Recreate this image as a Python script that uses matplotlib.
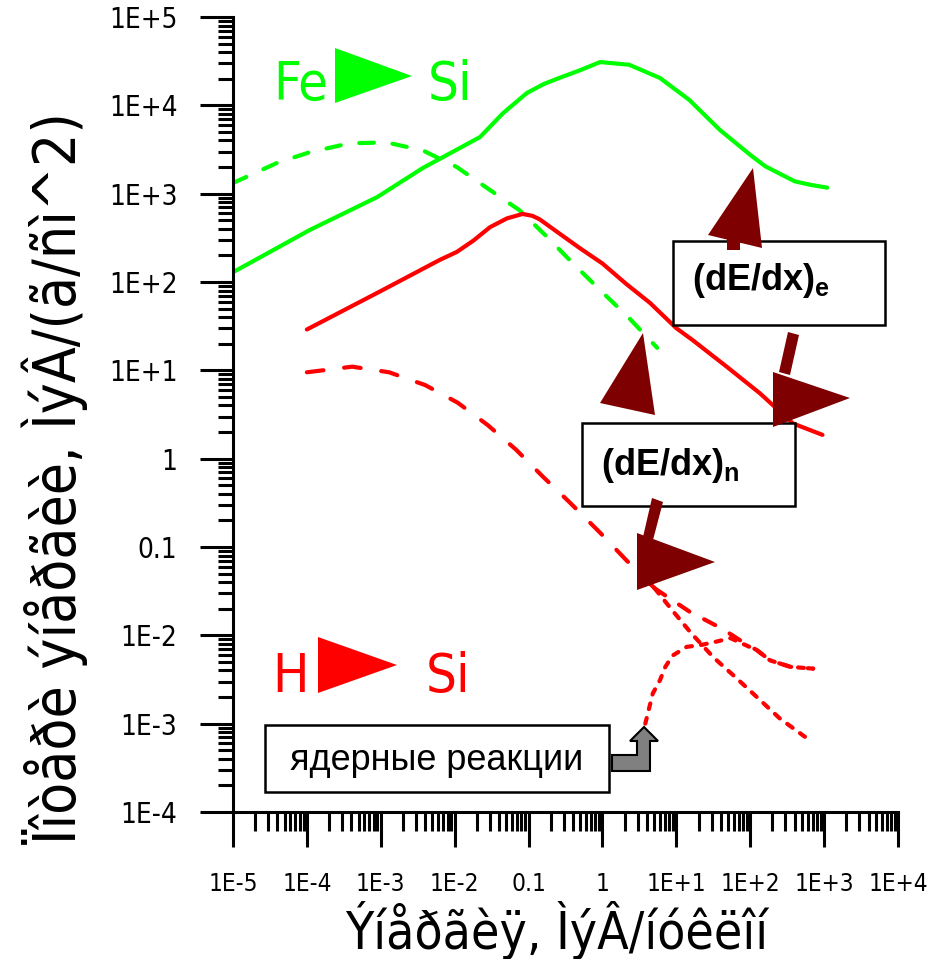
import matplotlib
matplotlib.use("Agg")
import matplotlib.pyplot as plt
from matplotlib.patches import Polygon, Rectangle
from matplotlib.ticker import LogLocator, NullFormatter, FixedLocator, FixedFormatter

# узкий шрифт (DejaVu Sans Condensed)
plt.rcParams['font.family'] = ['DejaVu Sans']
plt.rcParams['font.stretch'] = 'condensed'
plt.rcParams['mathtext.fontset'] = 'custom'
plt.rcParams['mathtext.bf'] = 'Liberation Sans:bold'
plt.rcParams['mathtext.rm'] = 'Liberation Sans'

# Fe -> Si, electronic losses (solid green)
fe_el_E = [1e-5, 1.1e-4, 8.9e-4, 3.7e-3, 2.2e-2, 4.5e-2, 9.5e-2, 0.16, 0.26, 0.5, 0.93, 2.3, 6.0, 15, 39, 100, 160, 400, 650, 1100]
fe_el_S = [129, 389, 912, 1950, 4370, 8130, 13800, 17400, 20400, 25000, 30900, 28800, 20400, 11500, 5250, 2750, 2040, 1380, 1260, 1170]

# Fe -> Si, nuclear losses (dashed green)
fe_nu_E = [1e-5, 4.0e-5, 1.1e-4, 3.8e-4, 1.2e-3, 3.7e-3, 1.07e-2, 3.0e-2, 7.6e-2, 0.178, 0.40, 0.93, 2.3, 5.5]
fe_nu_S = [1320, 2240, 2950, 3720, 3800, 3090, 2000, 1100, 646, 324, 162, 81, 39, 18]

# H -> Si, electronic losses (solid red)
h_el_E = [1.0e-4, 1.0e-3, 6.3e-3, 1.07e-2, 1.8e-2, 3.0e-2, 5.1e-2, 8.3e-2, 0.112, 0.141, 0.26, 0.50, 1.0, 2.1, 4.4, 10, 16.6, 48, 135, 380, 950]
h_el_S = [29, 79, 178, 219, 295, 417, 525, 589, 562, 513, 355, 240, 162, 95, 58, 30, 22, 11, 5.5, 2.5, 1.86]

# H -> Si, nuclear (elastic) losses (dashed red, then dotted)
h_nu_E = [1.0e-4, 4.1e-4, 1.3e-3, 4.0e-3, 1.1e-2, 2.8e-2, 6.8e-2, 0.155, 0.36, 0.93, 2.1, 5.1]
h_nu_S = [9.5, 11.0, 9.5, 6.8, 4.3, 2.4, 1.26, 0.63, 0.32, 0.145, 0.071, 0.034]
h_nu2_E = [5.1, 8.9, 16, 32, 62, 123, 250, 550]
h_nu2_S = [0.034, 0.019, 0.0105, 0.0056, 0.0034, 0.0020, 0.00115, 0.00071]

# H -> Si, total nuclear (dashed red)
h_tot_E = [5.1, 15, 43, 91, 123, 186, 350, 710]
h_tot_S = [0.034, 0.0186, 0.0117, 0.0078, 0.0068, 0.0052, 0.0044, 0.0042]

# H -> Si, nuclear reactions (dotted red)
h_re_E = [3.8, 4.8, 6.0, 7.1, 8.9, 13.8, 22, 35, 54, 85, 123, 186, 350, 710]
h_re_S = [0.0010, 0.0022, 0.0031, 0.0044, 0.0059, 0.0074, 0.0078, 0.0085, 0.0093, 0.0078, 0.0068, 0.0052, 0.0044, 0.0042]

x_ticks = [1e-5, 1e-4, 1e-3, 1e-2, 0.1, 1, 10, 100, 1e3, 1e4]
x_labels = ['1E-5', '1E-4', '1E-3', '1E-2', '0.1', '1', '1E+1', '1E+2', '1E+3', '1E+4']
y_ticks = [1e-4, 1e-3, 1e-2, 0.1, 1, 10, 100, 1e3, 1e4, 1e5]
y_labels = ['1E-4', '1E-3', '1E-2', '0.1', '1', '1E+1', '1E+2', '1E+3', '1E+4', '1E+5']

green = '#00ff00'
red = '#ff0000'
dark = '#7f0000'

fig = plt.figure(figsize=(9.28, 9.59), dpi=100)
ax = fig.add_axes([233/928, (959-812)/959, 665/928, 795/959])
ax.set_xscale('log')
ax.set_yscale('log')
ax.set_xlim(1e-5, 1e4)
ax.set_ylim(1e-4, 1e5)

lw = 3
ax.plot(fe_el_E, fe_el_S, color=green, lw=lw, solid_capstyle='round')
ax.plot(fe_nu_E, fe_nu_S, color=green, lw=lw, dashes=(3.5, 4.5), dash_capstyle='round')
ax.plot(h_el_E, h_el_S, color=red, lw=lw, solid_capstyle='round')
ax.plot(h_nu_E, h_nu_S, color=red, lw=lw, dashes=(4, 5), dash_capstyle='round')
ax.plot(h_nu2_E, h_nu2_S, color=red, lw=lw, dashes=(1.6, 2.2), dash_capstyle='round')
ax.plot(h_tot_E, h_tot_S, color=red, lw=lw, dashes=(3, 4), dash_capstyle='round')
ax.plot(h_re_E, h_re_S, color=red, lw=lw, dashes=(1.4, 2.2), dash_capstyle='round')

# оси
for s in ['top', 'right']:
    ax.spines[s].set_visible(False)
for s in ['left', 'bottom']:
    ax.spines[s].set_linewidth(2.2)

ax.xaxis.set_major_locator(FixedLocator(x_ticks))
ax.xaxis.set_major_formatter(FixedFormatter(x_labels))
ax.yaxis.set_major_locator(FixedLocator(y_ticks))
ax.yaxis.set_major_formatter(FixedFormatter(y_labels))
ax.xaxis.set_minor_locator(LogLocator(base=10, subs=range(2, 10), numticks=20))
ax.yaxis.set_minor_locator(LogLocator(base=10, subs=range(2, 10), numticks=20))
ax.xaxis.set_minor_formatter(NullFormatter())
ax.yaxis.set_minor_formatter(NullFormatter())
ax.tick_params(axis='x', which='major', direction='out', length=25, width=2.2, pad=18, labelsize=17.5)
ax.tick_params(axis='x', which='minor', direction='out', length=14, width=2.2)
ax.tick_params(axis='y', which='major', direction='out', length=24, width=2.2, pad=16, labelsize=20)
ax.tick_params(axis='y', which='minor', direction='out', length=11, width=2.2)

fig.text(557/928, 1-930/959, 'Ýíåðãèÿ, ÌýÂ/íóêëîí', fontsize=37, ha='center', va='center')
fig.text(55/928, 1-478/959, 'Ïîòåðè ýíåðãèè, ÌýÂ/(ã/ñì^2)', fontsize=42, ha='center', va='center', rotation=90)


def fr(px, py):
    # пиксели картинки -> доли осей
    return ((px - 233) / 665, (812 - py) / 795)


def poly(pts, fc, ec='none', lw=0, z=5):
    p = Polygon([fr(*q) for q in pts], closed=True, transform=ax.transAxes, facecolor=fc,
                edgecolor=ec, linewidth=lw, clip_on=False, zorder=z)
    ax.add_patch(p)


def box(x0, y0, x1, y1):
    a = fr(x0, y1)
    b = fr(x1, y0)
    r = Rectangle(a, b[0]-a[0], b[1]-a[1], transform=ax.transAxes, facecolor='white',
                  edgecolor='black', linewidth=1.8, clip_on=False, zorder=4)
    ax.add_patch(r)


# подписи Fe -> Si и H -> Si
big_fs = 39
ax.text(*fr(273, 100), 'Fe', color=green, fontsize=big_fs, transform=ax.transAxes, va='baseline')
poly([(335, 48), (335, 103), (412, 76)], green)
ax.text(*fr(428, 100), 'Si', color=green, fontsize=big_fs, transform=ax.transAxes, va='baseline')
ax.text(*fr(272, 692), 'H', color=red, fontsize=big_fs, transform=ax.transAxes, va='baseline')
poly([(318, 637), (318, 693), (397, 665)], red)
ax.text(*fr(426, 692), 'Si', color=red, fontsize=big_fs, transform=ax.transAxes, va='baseline')

# рамки
box(673, 241, 885, 325)
ax.text(*fr(692, 290), r'$\mathbf{(dE/dx)}_{\mathbf{e}}$', fontsize=26, transform=ax.transAxes,
        va='baseline', zorder=6)
box(582, 423, 795, 506)
ax.text(*fr(601, 475), r'$\mathbf{(dE/dx)}_{\mathbf{n}}$', fontsize=26, transform=ax.transAxes,
        va='baseline', zorder=6)
box(265, 725, 609, 792)
ax.text(*fr(437, 760), 'ядерные реакции', fontsize=26, family='Liberation Sans', stretch='normal',
        transform=ax.transAxes, ha='center', va='center', zorder=6)

# стрелки
poly([(727, 250), (740, 250), (740, 236), (727, 236)], dark, z=7)
poly([(753, 168), (708, 235), (762, 248)], dark, z=7)
poly([(788, 332), (799, 335), (790, 375), (779, 372)], dark, z=7)
poly([(773, 372), (773, 427), (850, 398)], dark, z=7)
poly([(643, 333), (600, 403), (655, 415)], dark, z=7)
poly([(652, 498), (663, 502), (653, 540), (643, 537)], dark, z=7)
poly([(637, 533), (637, 590), (715, 562)], dark, z=7)
poly([(612, 755), (637, 755), (637, 741), (630, 741), (644, 727), (658, 741), (650, 741),
      (650, 771), (612, 771)], '#808080', ec='black', lw=1.5, z=7)

fig.savefig('out.png', dpi=100)
